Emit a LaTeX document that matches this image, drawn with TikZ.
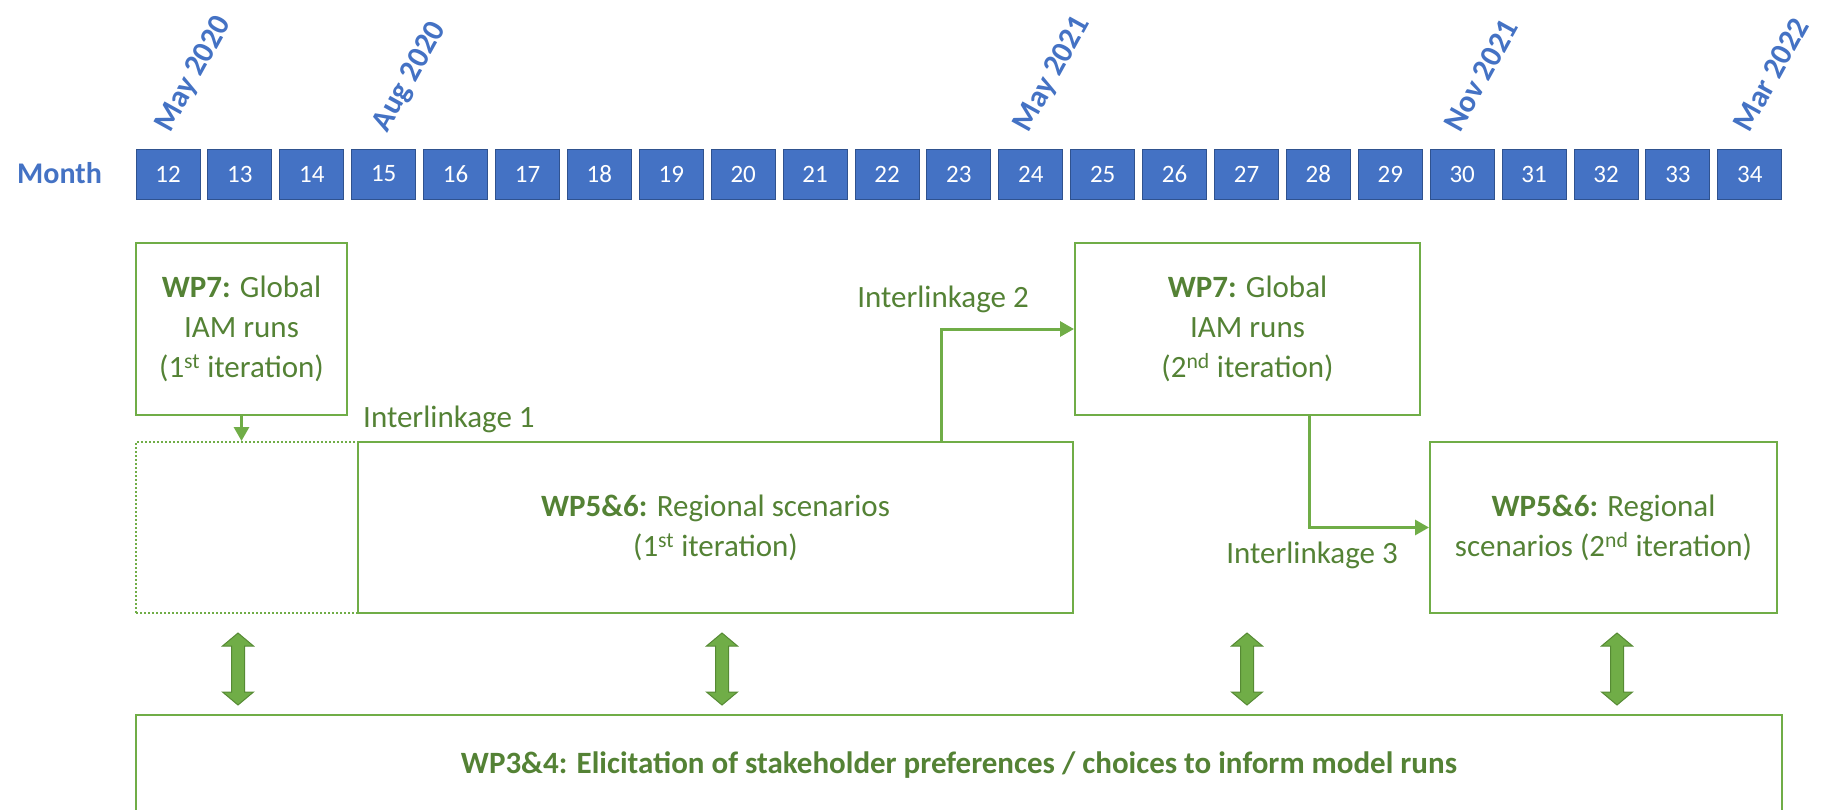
\documentclass[tikz,border=0pt]{standalone}
\usepackage{fontspec}
\setmainfont{Carlito}
\usetikzlibrary{arrows.meta,shapes.arrows,calc}
\definecolor{mblue}{RGB}{68,114,196}
\definecolor{mbluedark}{RGB}{47,82,143}
\definecolor{mgreen}{RGB}{112,173,71}
\definecolor{tgreen}{RGB}{84,130,53}
\definecolor{agreen}{RGB}{86,138,52}
\begin{document}
\begin{tikzpicture}[x=1pt,y=-1pt,
  monthbox/.style={draw=mbluedark, line width=1pt, fill=mblue, minimum width=64pt, minimum height=50pt, inner sep=0pt, text=white, font=\fontsize{25}{30}\selectfont},
  datelbl/.style={rotate=61, anchor=base west, inner sep=0pt, text=mblue, font=\fontsize{31}{36}\selectfont\bfseries},
  gbox/.style={draw=mgreen, line width=2pt, inner sep=0pt, align=center, text=tgreen, font=\fontsize{31}{40}\selectfont},
  lbl/.style={inner sep=0pt, text=tgreen, font=\fontsize{31}{36}\selectfont},
  conn/.style={draw=mgreen, line width=3pt, -{Triangle[length=14pt,width=15pt]}},
  dblarrow/.style={double arrow, rotate=90, draw=agreen, fill=mgreen, line width=1pt, minimum height=72pt, inner xsep=0pt, inner ysep=6pt, double arrow head extend=9pt, double arrow head indent=0pt, double arrow tip angle=100}
]
\useasboundingbox (0,0) rectangle (1827,809);
\clip (0,0) rectangle (1827,809);

% month strip
\node[anchor=base west, inner sep=0pt, text=mblue, font=\fontsize{30}{36}\selectfont\bfseries] (month) at (17,183) {Month};
\foreach \i [evaluate=\i as \xx using {168+(\i-12)*71.9}] in {12,...,34} {
  \node[monthbox] (m\i) at (\xx,174) {\i};
}
\node[datelbl] (d12) at ([xshift=2pt,yshift=15pt]m12.north) {May 2020};
\node[datelbl] (d15) at ([xshift=4pt,yshift=15pt]m15.north) {Aug 2020};
\node[datelbl] (d24) at ([xshift=-2pt,yshift=15pt]m24.north) {May 2021};
\node[datelbl] (d30) at ([xshift=-2pt,yshift=15pt]m30.north) {Nov 2021};
\node[datelbl] (d34) at ([xshift=0pt,yshift=15pt]m34.north) {Mar 2022};

% work package boxes
\node[gbox, minimum width=211pt, minimum height=172pt] (wp7a) at (241.5,329) {\textbf{WP7:} Global\\IAM runs\\(1\textsuperscript{st} iteration)};
\node[gbox, dash pattern=on 2pt off 2pt, minimum width=222pt, minimum height=171pt] (dot) at (247,527.5) {};
\node[gbox, minimum width=715pt, minimum height=171pt] (wp56a) at (715.5,527.5) {\textbf{WP5\&6:} Regional scenarios\\(1\textsuperscript{st} iteration)};
\node[gbox, minimum width=345pt, minimum height=172pt] (wp7b) at (1247.5,329) {\textbf{WP7:} Global\\IAM runs\\(2\textsuperscript{nd} iteration)};
\node[gbox, minimum width=347pt, minimum height=171pt] (wp56b) at (1603.5,527.5) {\textbf{WP5\&6:} Regional\\scenarios (2\textsuperscript{nd} iteration)};
\node[gbox, minimum width=1646pt, minimum height=160pt] (wp34) at (959,795) {};
\node[lbl, font=\fontsize{31}{36}\selectfont\bfseries, anchor=base] (wp34t) at (959,773) {WP3\&4: Elicitation of stakeholder preferences / choices to inform model runs};

% interlinkages
\draw[conn] (wp7a.south) -- (wp7a.south |- dot.north);
\draw[conn] ([xshift=225.5pt]wp56a.north) |- (wp7b.west);
\draw[conn] ([xshift=61.5pt]wp7b.south) |- (wp56b.west);
\node[lbl, anchor=base west] (il1) at (363,427) {Interlinkage 1};
\node[lbl, anchor=base] (il2) at (943,307) {Interlinkage 2};
\node[lbl, anchor=base] (il3) at (1312,563) {Interlinkage 3};

% stakeholder double arrows
\node[dblarrow] (da1) at (238,669) {};
\node[dblarrow] (da2) at (722,669) {};
\node[dblarrow] (da3) at (1247,669) {};
\node[dblarrow] (da4) at (1617,669) {};
\end{tikzpicture}
\end{document}
